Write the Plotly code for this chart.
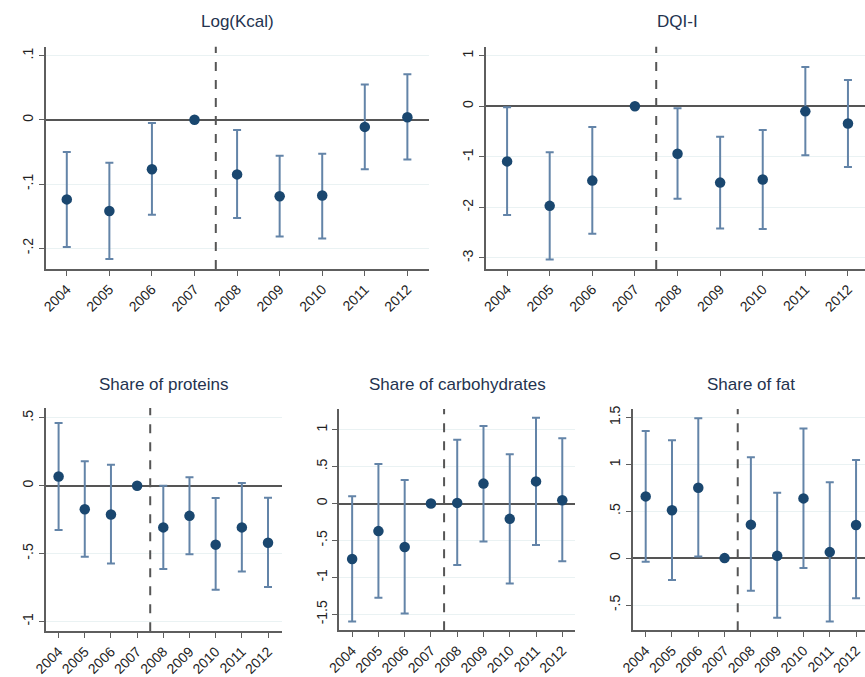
import plotly.graph_objects as go

# Event-study coefficients with 95% confidence bounds, 2007 = reference year
years = [2004, 2005, 2006, 2007, 2008, 2009, 2010, 2011, 2012]

kcal_est = [-0.124, -0.142, -0.077, 0.0, -0.085, -0.119, -0.118, -0.011, 0.004]
kcal_lo = [-0.198, -0.217, -0.148, 0.0, -0.153, -0.182, -0.185, -0.077, -0.062]
kcal_hi = [-0.050, -0.067, -0.005, 0.0, -0.016, -0.056, -0.053, 0.055, 0.071]

dqi_est = [-1.09, -1.97, -1.47, 0.0, -0.94, -1.51, -1.45, -0.10, -0.34]
dqi_lo = [-2.15, -3.03, -2.52, 0.0, -1.83, -2.42, -2.43, -0.97, -1.20]
dqi_hi = [-0.02, -0.91, -0.41, 0.0, -0.04, -0.60, -0.47, 0.78, 0.52]

prot_est = [0.068, -0.173, -0.212, 0.0, -0.307, -0.222, -0.434, -0.307, -0.420]
prot_lo = [-0.327, -0.524, -0.573, 0.0, -0.614, -0.505, -0.766, -0.632, -0.746]
prot_hi = [0.463, 0.180, 0.154, 0.0, 0.000, 0.063, -0.090, 0.020, -0.088]

carb_est = [-0.75, -0.373, -0.589, 0.0, 0.009, 0.27, -0.207, 0.30, 0.045]
carb_lo = [-1.595, -1.276, -1.488, 0.0, -0.83, -0.512, -1.083, -0.562, -0.782]
carb_hi = [0.098, 0.534, 0.318, 0.0, 0.862, 1.05, 0.669, 1.163, 0.884]

fat_est = [0.658, 0.51, 0.75, 0.0, 0.357, 0.024, 0.637, 0.064, 0.354]
fat_lo = [-0.039, -0.234, 0.018, 0.0, -0.347, -0.637, -0.106, -0.676, -0.429]
fat_hi = [1.355, 1.256, 1.49, 0.0, 1.075, 0.697, 1.383, 0.81, 1.047]

titles = ["Log(Kcal)", "DQI-I", "Share of proteins", "Share of carbohydrates", "Share of fat"]

ytick_vals = [
    [0.1, 0.0, -0.1, -0.2],
    [1, 0, -1, -2, -3],
    [0.5, 0, -0.5, -1],
    [1, 0.5, 0, -0.5, -1, -1.5],
    [1.5, 1, 0.5, 0, -0.5],
]
ytick_text = [
    [".1", "0", "-.1", "-.2"],
    ["1", "0", "-1", "-2", "-3"],
    [".5", "0", "-.5", "-1"],
    ["1", ".5", "0", "-.5", "-1", "-1.5"],
    ["1.5", "1", ".5", "0", "-.5"],
]

policy_break = 2007.5

W, H = 865, 677

# panel boxes in pixels: (left, right, top, bottom), x range, y range
panels = [
    ((33, 422, 43, 267), [2003.5, 2012.5], [-0.2325, 0.114]),
    ((480, 865, 43, 267), [2003.5, 2012.4], [-3.22, 1.18]),
    ((33, 273, 407, 632), [2003.5, 2012.53], [-1.073, 0.573]),
    ((331, 571, 408, 631), [2003.5, 2012.5], [-1.716, 1.28]),
    ((629, 865, 408, 631), [2003.5, 2012.34], [-0.77, 1.59]),
]
title_centers = [(227.5, 18), (674.5, 18), (153, 383), (451, 383), (749, 383)]

series = [
    (kcal_est, kcal_lo, kcal_hi),
    (dqi_est, dqi_lo, dqi_hi),
    (prot_est, prot_lo, prot_hi),
    (carb_est, carb_lo, carb_hi),
    (fat_est, fat_lo, fat_hi),
]

marker_color = "#1a476f"
bar_color = "#6384a8"
axis_color = "#5e5e5e"
grid_color = "#eaf2f3"
ref_color = "#555555"
font_family = "Liberation Sans, Arial, sans-serif"

fig = go.Figure()
layout = dict(
    width=W, height=H,
    margin=dict(l=0, r=0, t=0, b=0),
    paper_bgcolor="white", plot_bgcolor="white",
    showlegend=False,
    font=dict(family=font_family, size=14, color="#222222"),
    shapes=[], annotations=[],
)

for i, ((est, lo, hi), (box, xr, yr)) in enumerate(zip(series, panels)):
    n = "" if i == 0 else str(i + 1)
    xa, ya = "x" + n, "y" + n
    err_plus = [h - e for h, e in zip(hi, est)]
    err_minus = [e - l for e, l in zip(est, lo)]
    fig.add_trace(go.Scatter(
        x=years, y=est, xaxis=xa, yaxis=ya, mode="markers",
        marker=dict(color=marker_color, size=10.5),
        error_y=dict(type="data", symmetric=False, array=err_plus, arrayminus=err_minus,
                     color=bar_color, thickness=2, width=4),
        hoverinfo="x+y",
    ))
    left, right, top, bottom = box
    layout["xaxis" + n] = dict(
        domain=[left / W, min(right / W, 1.0)], range=xr, anchor=ya,
        tickvals=years, ticktext=[str(y) for y in years], tickangle=-45,
        showline=True, linecolor=axis_color, linewidth=1.5,
        ticks="outside", ticklen=5, tickcolor=axis_color, tickwidth=1.2,
        showgrid=False, zeroline=False, tickfont=dict(size=14),
    )
    # the zero reference line is the axis zeroline (drawn above grid, below markers)
    layout["yaxis" + n] = dict(
        domain=[1 - bottom / H, 1 - top / H], range=yr, anchor=xa,
        tickvals=ytick_vals[i], ticktext=ytick_text[i], tickangle=-90,
        showline=True, linecolor=axis_color, linewidth=1.5,
        ticks="outside", ticklen=5, tickcolor=axis_color, tickwidth=1.2,
        showgrid=True, gridcolor=grid_color, gridwidth=1.2,
        zeroline=True, zerolinecolor=ref_color, zerolinewidth=2,
        tickfont=dict(size=14),
    )
    # dashed policy break
    layout["shapes"].append(dict(
        type="line", xref=xa, yref=ya + " domain", x0=policy_break, x1=policy_break, y0=0, y1=1,
        line=dict(color=ref_color, width=2, dash="dash"), layer="above",
    ))
    cx, cy = title_centers[i]
    layout["annotations"].append(dict(
        text=titles[i], xref="paper", yref="paper", x=cx / W, y=1 - cy / H,
        xanchor="center", yanchor="middle", showarrow=False,
        font=dict(size=17, color="#24334f", family=font_family),
    ))

fig.update_layout(**layout)
fig.write_html("out.html")
